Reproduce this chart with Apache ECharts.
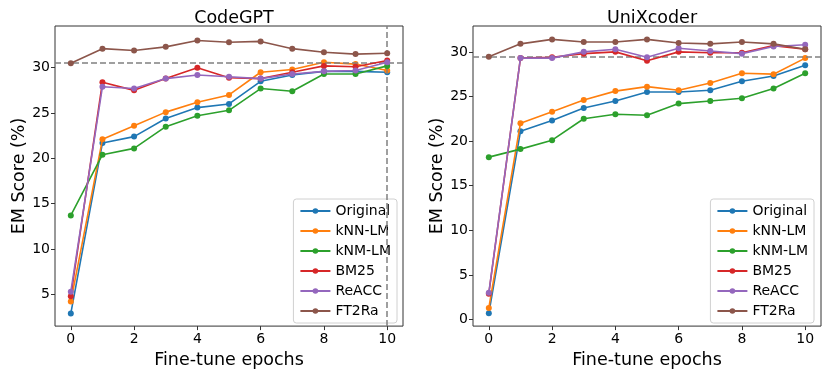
<!DOCTYPE html>
<html>
<head>
<meta charset="utf-8">
<script src="https://cdn.jsdelivr.net/npm/echarts@6/dist/echarts.min.js"></script>
<style>
  html, body { margin: 0; padding: 0; background: #fff; }
  #chart { width: 831px; height: 374px; }
</style>
</head>
<body>
<div id="chart"></div>
<script>
// data
const epochs = [0, 1, 2, 3, 4, 5, 6, 7, 8, 9, 10];
const methods = ['Original', 'kNN-LM', 'kNM-LM', 'BM25', 'ReACC', 'FT2Ra'];
const colors = ['#1f77b4', '#ff7f0e', '#2ca02c', '#d62728', '#9467bd', '#8c564b'];

const codegptOriginal = [2.9, 21.7, 22.4, 24.4, 25.6, 26.0, 28.5, 29.2, 29.6, 29.6, 29.5];
const codegptKnnLm   = [4.2, 22.1, 23.6, 25.1, 26.2, 27.0, 29.5, 29.8, 30.6, 30.4, 29.7];
const codegptKnmLm   = [13.7, 20.4, 21.1, 23.5, 24.7, 25.3, 27.7, 27.4, 29.3, 29.3, 30.2];
const codegptBm25    = [4.8, 28.4, 27.5, 28.8, 30.0, 28.9, 28.8, 29.5, 30.2, 30.1, 30.8];
const codegptReacc   = [5.3, 27.9, 27.7, 28.8, 29.2, 29.0, 28.8, 29.3, 29.6, 29.7, 30.6];
const codegptFt2ra   = [30.5, 32.1, 31.9, 32.3, 33.0, 32.8, 32.9, 32.1, 31.7, 31.5, 31.6];

const unixOriginal = [0.7, 21.1, 22.3, 23.7, 24.5, 25.5, 25.5, 25.7, 26.7, 27.3, 28.5];
const unixKnnLm    = [1.3, 22.0, 23.3, 24.6, 25.6, 26.1, 25.7, 26.5, 27.6, 27.5, 29.3];
const unixKnmLm    = [18.2, 19.1, 20.1, 22.5, 23.0, 22.9, 24.2, 24.5, 24.8, 25.9, 27.6];
const unixBm25     = [2.9, 29.3, 29.4, 29.8, 30.0, 29.0, 30.0, 29.9, 29.9, 30.7, 30.3];
const unixReacc    = [3.0, 29.3, 29.3, 30.0, 30.3, 29.4, 30.4, 30.1, 29.8, 30.6, 30.8];
const unixFt2ra    = [29.45, 30.9, 31.4, 31.1, 31.1, 31.4, 31.0, 30.9, 31.1, 30.9, 30.3];

const codegptBaseline = 30.5;
const codegptBestEpoch = 10;
const unixBaseline = 29.45;

const xTicks = [0, 2, 4, 6, 8, 10];
const codegptYTicks = [5, 10, 15, 20, 25, 30];
const unixYTicks = [0, 5, 10, 15, 20, 25, 30];

const font = 'DejaVu Sans';
const dashStyle = { color: '#808080', width: 1.5, type: [6, 3] };

function makeSeries(values, i, gridIdx) {
    return {
        name: methods[i],
        type: 'line',
        xAxisIndex: gridIdx,
        yAxisIndex: gridIdx,
        data: epochs.map((e, k) => [e, values[k]]),
        symbol: 'circle',
        symbolSize: 6,
        lineStyle: { width: 1.6, color: colors[i] },
        itemStyle: { color: colors[i] },
        z: 3 + i,
        animation: false
    };
}

function xAxisFor(gridIdx) {
    return {
        type: 'value', gridIndex: gridIdx, min: -0.5, max: 10.5,
        name: 'Fine-tune epochs', nameLocation: 'middle', nameGap: 22,
        nameTextStyle: { fontFamily: font, fontSize: 17.5, color: '#000' },
        axisLine: { show: false, onZero: false },
        axisTick: { show: true, length: 4, customValues: xTicks, lineStyle: { color: '#333' } },
        axisLabel: { customValues: xTicks, fontFamily: font, fontSize: 14, color: '#000', margin: 6 },
        splitLine: { show: false }
    };
}

function yAxisFor(gridIdx, min, max, ticks) {
    return {
        type: 'value', gridIndex: gridIdx, min: min, max: max,
        name: 'EM Score (%)', nameLocation: 'middle', nameGap: 26,
        nameTextStyle: { fontFamily: font, fontSize: 17.5, color: '#000' },
        axisLine: { show: false, onZero: false },
        axisTick: { show: true, length: 4, customValues: ticks, lineStyle: { color: '#333' } },
        axisLabel: { customValues: ticks, fontFamily: font, fontSize: 14, color: '#000', margin: 5 },
        splitLine: { show: false }
    };
}

const left = [codegptOriginal, codegptKnnLm, codegptKnmLm, codegptBm25, codegptReacc, codegptFt2ra];
const right = [unixOriginal, unixKnnLm, unixKnmLm, unixBm25, unixReacc, unixFt2ra];

const series = [];
left.forEach((v, i) => series.push(makeSeries(v, i, 0)));
right.forEach((v, i) => series.push(makeSeries(v, i, 1)));

// dashed reference lines
series[5].markLine = {
    silent: true, symbol: 'none', label: { show: false }, lineStyle: dashStyle,
    data: [{ yAxis: codegptBaseline }, { xAxis: codegptBestEpoch }]
};
series[11].markLine = {
    silent: true, symbol: 'none', label: { show: false }, lineStyle: dashStyle,
    data: [{ yAxis: unixBaseline }]
};

const legendBase = {
    orient: 'vertical', bottom: 51, itemWidth: 30, itemHeight: 7, itemGap: 6,
    backgroundColor: '#fff', borderColor: '#d0d0d0', borderWidth: 1, borderRadius: 3,
    padding: [5, 6, 5, 6], data: methods,
    textStyle: { fontFamily: font, fontSize: 14, lineHeight: 14, color: '#000' }
};

const chart = echarts.init(document.getElementById('chart'));
chart.setOption({
    animation: false,
    backgroundColor: '#fff',
    title: [
        { text: 'CodeGPT', left: 229, top: 4, textAlign: 'center',
          textStyle: { fontFamily: font, fontSize: 17.5, fontWeight: 'normal', color: '#000' } },
        { text: 'UniXcoder', left: 647, top: 4, textAlign: 'center',
          textStyle: { fontFamily: font, fontSize: 17.5, fontWeight: 'normal', color: '#000' } }
    ],
    legend: [
        Object.assign({}, legendBase, { right: 434 }),
        Object.assign({}, legendBase, { right: 17 })
    ],
    grid: [
        { left: 55, top: 26, width: 348, height: 304, show: true, borderColor: '#333', borderWidth: 1 },
        { left: 473, top: 26, width: 348, height: 304, show: true, borderColor: '#333', borderWidth: 1 }
    ],
    xAxis: [xAxisFor(0), xAxisFor(1)],
    yAxis: [yAxisFor(0, 1.5, 34.6, codegptYTicks), yAxisFor(1, -0.74, 32.9, unixYTicks)],
    series: series
});
</script>
</body>
</html>
